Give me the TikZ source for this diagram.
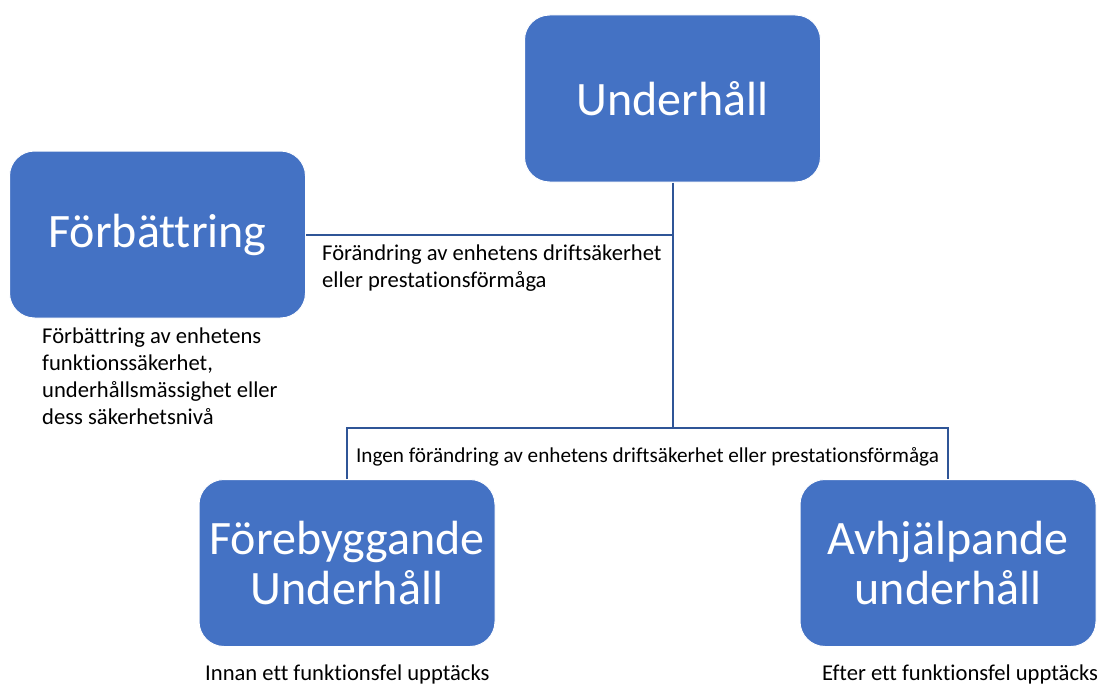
\documentclass[tikz,border=0pt]{standalone}
\usepackage{fontspec}
\setmainfont{Carlito}[Ligatures=NoCommon]
\definecolor{boxblue}{HTML}{4472C4}
\definecolor{linkblue}{HTML}{2F5597}
\tikzset{
    block/.style={fill=boxblue, draw=white, line width=1pt, rounded corners=25pt,
        minimum width=296pt, minimum height=167pt, inner sep=0pt,
        align=center, text=white, font=\fontsize{48}{50}\selectfont},
    link/.style={draw=linkblue, line width=2pt},
    note/.style={align=left, inner sep=0pt, font=\fontsize{22.6}{26.8}\selectfont}
}
\begin{document}
\begin{tikzpicture}[x=1pt, y=-1pt]
            \useasboundingbox (0,0) rectangle (1101,685);
            \node[block] (underhall) at (672.5,98.5) {Underhåll};
            \node[block] (forbattring) at (157.5,234.5) {Förbättring};
            \node[block] (forebyggande) at (347,563) {Förebyggande\\Underhåll};
            \node[block] (avhjalpande) at (948,563) {Avhjälpande\\underhåll};
            \coordinate (split) at (672.5,428);
            \draw[link] (underhall.south) -- (split);
            \draw[link] (forbattring.east) -- (forbattring.east -| underhall.south);
            \draw[link] (forebyggande.north) |- (split) -| (avhjalpande.north);
            \node[note, anchor=north west] (forandring) at (322,245) {Förändring av enhetens driftsäkerhet\\eller prestationsförmåga};
            \node[note, anchor=north west] (forbattringtext) at (42,328) {Förbättring av enhetens\\funktionssäkerhet,\\underhållsmässighet eller\\dess säkerhetsnivå};
            \node[note, anchor=base, font=\fontsize{21.2}{26}\selectfont] (ingen) at (647.5,462) {Ingen förändring av enhetens driftsäkerhet eller prestationsförmåga};
            \node[note, anchor=base west] (innan) at (205,680) {Innan ett funktionsfel upptäcks};
            \node[note, anchor=base west] (efter) at (822,680) {Efter ett funktionsfel upptäcks};
\end{tikzpicture}
\end{document}
